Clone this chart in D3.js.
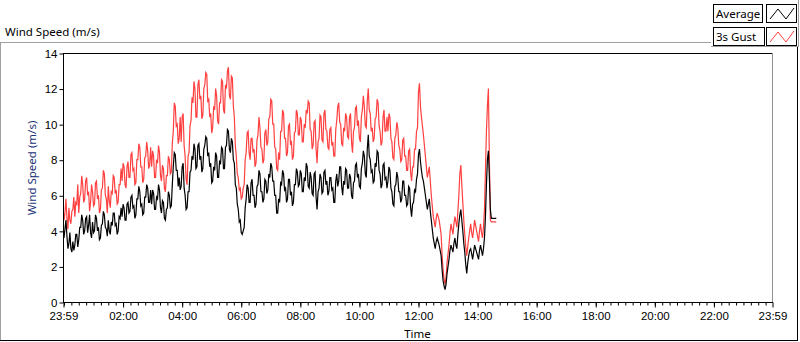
<!DOCTYPE html>
<html>
<head>
<meta charset="utf-8">
<script src="https://cdn.jsdelivr.net/npm/d3@7"></script>
<style>
  body { margin: 0; background: #fff; }
  svg { display: block; font-family: "Noto Sans", "Open Sans", sans-serif; }
</style>
</head>
<body>
<div id="chart"></div>
<script>
// time base: one sample every 2 minutes, starting 23:59 the day before
var startTime = new Date(2020, 0, 1, 23, 59);
var endTime = new Date(2020, 0, 2, 23, 59);
var stepMinutes = 2;

// 1 row = 1 hour of samples
var avgSpeed = [
  4.3,3.6, 4.1,4.6, 3.7,3.0, 3.3,3.9, 3.0,2.8, 3.4,2.9, 3.2,3.8, 3.8,3.1, 3.5,4.2, 4.2,4.9, 4.6,3.8, 4.0,4.7, 4.8,3.9, 4.3,4.9, 3.9,3.6,
  4.5,3.9, 4.0,4.9, 4.7,4.0, 4.2,3.5, 3.6,4.3, 4.4,5.1, 4.9,4.2, 4.1,3.7, 4.6,4.0, 3.8,4.5, 4.3,5.0, 5.0,4.3, 4.4,3.8, 4.0,4.8, 4.7,5.3,
  4.8,5.5, 5.3,4.6, 4.6,5.5, 5.6,5.0, 5.1,5.9, 6.0,5.3, 5.4,4.7, 4.9,5.8, 5.8,6.5, 6.2,5.4, 5.5,4.9, 5.0,5.9, 5.9,6.6, 6.4,5.6, 5.6,6.3,
  5.5,6.3, 6.1,5.2, 5.2,5.9, 5.8,6.6, 6.3,5.3, 5.0,5.7, 5.6,4.7, 4.6,5.2, 5.3,6.2, 6.0,5.3, 5.4,6.6, 7.6,8.4, 8.3,7.4, 7.4,6.5, 7.0,6.3,
  6.5,7.6, 7.8,6.4, 6.0,5.2, 5.3,6.2, 6.2,7.3, 7.4,8.2, 8.0,8.9, 8.6,7.5, 7.6,8.8, 8.9,8.0, 8.2,7.3, 7.5,8.6, 8.8,9.3, 9.2,8.2, 8.4,7.6,
  7.8,6.7, 6.8,7.6, 7.4,8.4, 8.2,7.0, 7.0,7.9, 7.8,8.7, 8.6,7.5, 7.5,8.7, 8.8,9.7, 9.6,8.6, 8.4,9.2, 9.0,8.0, 7.8,6.6, 6.4,5.5, 5.2,4.5,
  4.6,3.9, 3.8,4.0, 4.2,5.3, 5.8,6.6, 6.4,5.6, 5.6,6.7, 6.9,6.0, 6.0,5.3, 5.5,6.5, 6.6,7.4, 7.2,6.2, 6.2,5.6, 5.8,6.9, 6.8,6.1, 6.3,7.2,
  7.0,7.8, 7.6,6.8, 6.8,6.0, 6.0,5.0, 5.0,5.8, 5.6,6.7, 6.6,7.4, 7.2,6.3, 6.4,5.6, 5.8,6.9, 6.9,6.0, 6.2,5.4, 5.6,6.6, 6.6,7.5, 7.3,6.5,
  6.6,7.4, 7.2,6.2, 6.2,7.0, 6.8,7.8, 7.6,6.5, 6.4,7.3, 7.0,6.1, 6.0,7.2, 7.3,5.9, 5.2,6.2, 6.4,7.2, 7.0,6.1, 6.2,7.3, 7.4,6.6, 6.8,6.0,
  6.2,7.0, 7.0,6.3, 6.4,5.6, 5.6,6.8, 7.2,6.5, 6.8,7.6, 7.6,6.5, 6.0,6.8, 6.6,7.5, 7.4,6.4, 6.4,7.2, 7.0,6.0, 5.8,6.7, 6.8,7.7, 7.8,7.0,
  7.2,6.5, 6.4,7.5, 7.8,8.5, 8.2,7.2, 7.0,8.6, 9.4,8.2, 8.0,7.3, 7.4,6.7, 6.8,7.8, 7.6,8.5, 8.4,7.4, 7.2,6.4, 6.6,7.7, 7.8,6.9, 7.0,6.4,
  6.8,7.6, 7.4,6.4, 6.2,5.5, 5.4,6.5, 6.6,7.3, 7.0,6.2, 6.2,5.6, 5.8,6.8, 6.8,6.0, 6.0,5.4, 5.5,6.5, 6.4,5.3, 4.8,5.5, 5.6,6.3, 6.2,6.9,
  7.2,8.3, 8.6,7.9, 7.4,7.0, 6.8,6.4, 6.0,5.6, 5.2,5.5, 5.8,5.1, 4.6,4.1, 3.6,3.3, 3.0,3.4, 3.6,3.4, 3.2,2.9, 2.6,1.8, 1.2,0.9, 0.7,1.0,
  1.6,2.0, 2.4,2.9, 3.2,3.0, 2.8,3.3, 3.6,3.2, 3.0,3.8, 4.4,4.9, 5.2,4.6, 4.0,3.3, 2.8,2.1, 1.6,2.2, 2.6,2.9, 3.0,2.7, 2.4,2.8, 3.2,3.0,
  2.8,2.6, 2.4,2.9, 3.2,2.9, 2.6,3.0, 3.6,4.8, 6.6,8.0, 8.5,7.0, 5.2,4.7, 4.7,4.7, 4.7,4.7, 4.7
];

var gustSpeed = [
  5.4,4.6, 5.0,5.8, 4.7,4.1, 5.3,4.6, 4.4,5.1, 5.2,5.9, 4.8,5.6, 5.5,6.6, 5.0,5.9, 6.1,7.1, 6.6,5.6, 5.8,6.8, 7.0,6.0, 6.2,5.1, 5.6,6.6,
  6.2,5.4, 5.5,6.7, 6.8,5.8, 6.0,5.0, 5.2,6.3, 6.4,7.4, 7.2,6.0, 5.8,5.0, 6.5,5.7, 5.3,6.2, 6.1,7.1, 7.0,6.1, 6.3,5.5, 5.6,6.6, 6.6,7.5,
  6.8,7.8, 7.6,6.6, 6.4,7.6, 7.9,7.0, 7.0,8.3, 8.4,7.4, 7.5,6.6, 6.7,8.0, 8.0,8.9, 8.7,7.6, 7.6,6.7, 6.9,8.1, 8.2,9.0, 8.5,7.5, 7.7,8.7,
  7.6,8.5, 8.2,7.0, 7.0,8.0, 7.8,8.8, 8.4,7.1, 6.8,7.7, 7.5,6.4, 6.2,7.1, 7.1,8.2, 8.0,7.2, 7.3,8.9, 9.6,11.2, 11.0,9.9, 10.0,8.9, 9.2,10.4,
  9.0,10.4, 10.6,8.8, 8.2,6.9, 6.6,8.2, 8.4,9.9, 10.2,11.5, 11.2,12.4, 12.0,10.4, 10.4,12.2, 12.5,11.4, 11.6,10.3, 10.5,12.0, 12.2,12.9, 12.8,11.3, 11.4,10.4,
  10.6,9.5, 9.8,11.0, 10.8,12.0, 11.6,10.2, 10.0,11.2, 11.2,12.5, 12.4,10.8, 10.6,12.2, 12.0,13.0, 13.2,11.6, 11.4,12.7, 12.6,11.0, 10.4,8.8, 8.2,7.2, 7.0,6.3,
  6.4,5.8, 5.9,6.4, 6.6,8.0, 8.4,9.5, 9.6,8.4, 8.0,9.2, 9.2,8.4, 8.6,7.6, 7.8,9.1, 9.4,10.4, 9.8,8.7, 8.6,7.8, 8.0,9.5, 9.7,8.8, 9.0,10.3,
  10.4,11.4, 11.3,10.0, 10.0,8.7, 8.6,7.5, 7.4,8.4, 8.0,9.6, 9.6,10.8, 10.6,9.2, 9.2,8.2, 8.4,9.9, 10.0,8.9, 9.0,8.0, 8.2,9.5, 9.6,10.8, 10.6,9.4,
  9.4,10.4, 10.2,9.0, 9.0,10.0, 9.8,10.8, 10.6,11.3, 11.2,9.7, 9.6,8.6, 8.8,10.1, 10.2,8.6, 7.8,9.0, 9.2,10.5, 10.4,9.1, 9.0,10.6, 10.8,9.7, 9.6,8.7,
  8.6,9.7, 9.8,8.8, 9.0,8.2, 8.2,9.7, 10.2,11.0, 11.2,10.1, 10.0,8.9, 8.8,9.8, 9.6,10.6, 10.4,9.3, 9.2,10.4, 10.6,9.0, 8.4,9.6, 9.8,10.9, 11.0,9.9,
  10.2,9.2, 9.0,10.4, 10.8,11.6, 11.0,9.9, 9.8,11.3, 12.0,10.8, 10.6,9.6, 9.8,9.0, 9.2,10.3, 10.4,11.4, 11.2,9.9, 9.6,8.8, 9.0,10.4, 10.8,9.6, 9.6,10.4,
  9.6,10.6, 10.4,9.2, 9.0,8.1, 8.0,9.2, 9.4,10.1, 9.8,8.8, 8.6,7.9, 8.0,9.1, 9.2,8.2, 8.2,7.4, 7.4,8.5, 8.6,7.3, 6.8,7.6, 7.6,8.6, 8.6,9.6,
  9.8,11.8, 12.3,11.0, 10.4,9.9, 9.4,8.8, 8.2,7.6, 7.0,7.3, 7.6,6.8, 6.0,5.4, 4.8,4.5, 4.2,4.7, 5.0,4.8, 4.6,4.2, 3.8,2.6, 1.8,1.3, 1.0,1.4,
  2.2,2.7, 3.2,3.9, 4.4,4.1, 3.8,4.4, 4.8,4.5, 4.2,5.1, 6.0,7.2, 7.7,6.6, 5.6,4.6, 3.8,3.1, 2.6,3.1, 3.6,4.0, 4.4,3.9, 3.6,4.1, 4.6,4.3,
  4.0,3.7, 3.4,4.0, 4.4,3.9, 3.6,4.2, 5.2,7.4, 9.6,11.0, 12.0,8.0, 4.6,4.5, 4.5,4.5, 4.5,4.5, 4.5
];

var yTicks = [0, 2, 4, 6, 8, 10, 12, 14];
var xTickLabels = ["23:59", "02:00", "04:00", "06:00", "08:00", "10:00", "12:00",
                   "14:00", "16:00", "18:00", "20:00", "22:00", "23:59"];
var seriesNames = ["Average", "3s Gust"];
var seriesColors = ["#000000", "#ff4040"];

var width = 800, height = 342;
var plotL = 63, plotR = 772, plotT = 53, plotB = 302;

var svg = d3.select("#chart").append("svg")
  .attr("width", width)
  .attr("height", height);

//outer frame
svg.append("line").attr("x1", 0).attr("x2", 711).attr("y1", 42.5).attr("y2", 42.5).attr("stroke", "#a0a0a0");
svg.append("line").attr("x1", 0.5).attr("x2", 0.5).attr("y1", 42).attr("y2", 341).attr("stroke", "#a0a0a0");
svg.append("line").attr("x1", 0).attr("x2", 798).attr("y1", 340.5).attr("y2", 340.5).attr("stroke", "#000");
svg.append("line").attr("x1", 797.5).attr("x2", 797.5).attr("y1", 47).attr("y2", 341).attr("stroke", "#000");

svg.append("text")
  .attr("x", 5).attr("y", 36)
  .style("font-size", "11.5px")
  .text("Wind Speed (m/s)");

var x = d3.scaleTime().domain([startTime, endTime]).range([plotL, plotR]);
var y = d3.scaleLinear().domain([0, 14]).range([plotB, plotT]);

function tickTime(label, i) {
  if (i === 0) return startTime;
  if (i === xTickLabels.length - 1) return endTime;
  var p = label.split(":");
  return new Date(2020, 0, 2, +p[0], +p[1]);
}
var xTickTimes = xTickLabels.map(tickTime);

//plot area
svg.append("rect")
  .attr("x", plotL).attr("y", plotT)
  .attr("width", plotR - plotL).attr("height", plotB - plotT)
  .attr("fill", "#fff");

svg.append("defs").append("clipPath").attr("id", "clip")
  .append("rect")
  .attr("x", plotL).attr("y", plotT)
  .attr("width", plotR - plotL).attr("height", plotB - plotT);

var series = [avgSpeed, gustSpeed].map(function(vals) {
  return vals.map(function(v, i) {
    return { t: d3.timeMinute.offset(startTime, i * stepMinutes), v: v };
  });
});

var line = d3.line()
  .x(function(d) { return x(d.t); })
  .y(function(d) { return y(d.v); });

// gust first, average on top
[1, 0].forEach(function(k) {
  svg.append("path")
    .datum(series[k])
    .attr("clip-path", "url(#clip)")
    .attr("fill", "none")
    .attr("stroke", seriesColors[k])
    .attr("stroke-width", 1.2)
    .attr("d", line);
});

//plot border
svg.append("line").attr("x1", plotL).attr("x2", plotR + 1).attr("y1", plotT + 0.5).attr("y2", plotT + 0.5).attr("stroke", "#000");
svg.append("line").attr("x1", plotR + 0.5).attr("x2", plotR + 0.5).attr("y1", plotT).attr("y2", plotB).attr("stroke", "#909090");
svg.append("line").attr("x1", plotL + 0.5).attr("x2", plotL + 0.5).attr("y1", plotT).attr("y2", plotB + 1).attr("stroke", "#000");
svg.append("line").attr("x1", plotL).attr("x2", plotR + 1).attr("y1", plotB + 0.5).attr("y2", plotB + 0.5).attr("stroke", "#000");

//y axis
var yAxis = svg.append("g")
  .attr("transform", "translate(" + (plotL + 0.5) + ",0.5)")
  .call(d3.axisLeft(y).tickValues(yTicks).tickSize(4).tickPadding(2).tickFormat(d3.format("d")));
yAxis.select(".domain").remove();
yAxis.selectAll("text").style("font-size", "11.5px").attr("fill", "#000").attr("font-family", null);

//x axis minor ticks
var minor = svg.append("g")
  .attr("transform", "translate(0.5," + (plotB + 0.5) + ")")
  .call(d3.axisBottom(x).ticks(d3.timeMinute.every(15)).tickSize(3).tickFormat(""));
minor.select(".domain").remove();

//x axis major ticks
var xAxis = svg.append("g")
  .attr("transform", "translate(0.5," + (plotB + 0.5) + ")")
  .call(d3.axisBottom(x).tickValues(xTickTimes).tickSize(5).tickPadding(4)
    .tickFormat(function(d, i) { return xTickLabels[i]; }));
xAxis.select(".domain").remove();
xAxis.selectAll("text").style("font-size", "11.5px").attr("fill", "#000").attr("font-family", null);

svg.append("text")
  .attr("x", (plotL + plotR) / 2).attr("y", 338)
  .attr("text-anchor", "middle")
  .style("font-size", "11.5px")
  .text("Time");

svg.append("text")
  .attr("transform", "translate(36,168) rotate(-90)")
  .attr("text-anchor", "middle")
  .attr("fill", "#1c3278")
  .style("font-size", "11.5px")
  .text("Wind Speed (m/s)");

//legend panel
svg.append("line").attr("x1", 711).attr("x2", 798).attr("y1", 46.5).attr("y2", 46.5).attr("stroke", "#a0a0a0");
svg.append("line").attr("x1", 798.5).attr("x2", 798.5).attr("y1", 0).attr("y2", 47).attr("stroke", "#a0a0a0");

var legend = svg.append("g")
  .selectAll("g")
  .data(seriesNames)
  .enter()
  .append("g")
  .attr("transform", function(d, i) {
    return "translate(713," + (4 + i * 23) + ")";
  });
legend.append("rect")
  .attr("x", 0.5).attr("y", 0.5)
  .attr("width", function(d, i) { return i === 0 ? 49 : 51; })
  .attr("height", 18)
  .attr("fill", "#fff")
  .attr("stroke", "#000");
legend.append("text")
  .attr("x", 3).attr("y", 14)
  .style("font-size", "11.5px")
  .text(function(d) { return d; });
legend.append("rect")
  .attr("x", 53.5).attr("y", 0.5)
  .attr("width", 30).attr("height", 18)
  .attr("fill", "#fff")
  .attr("stroke", "#000");
legend.append("polyline")
  .attr("points", "57,15 65,5 73,15 81,4")
  .attr("fill", "none")
  .attr("stroke", function(d, i) { return seriesColors[i]; });
</script>
</body>
</html>
